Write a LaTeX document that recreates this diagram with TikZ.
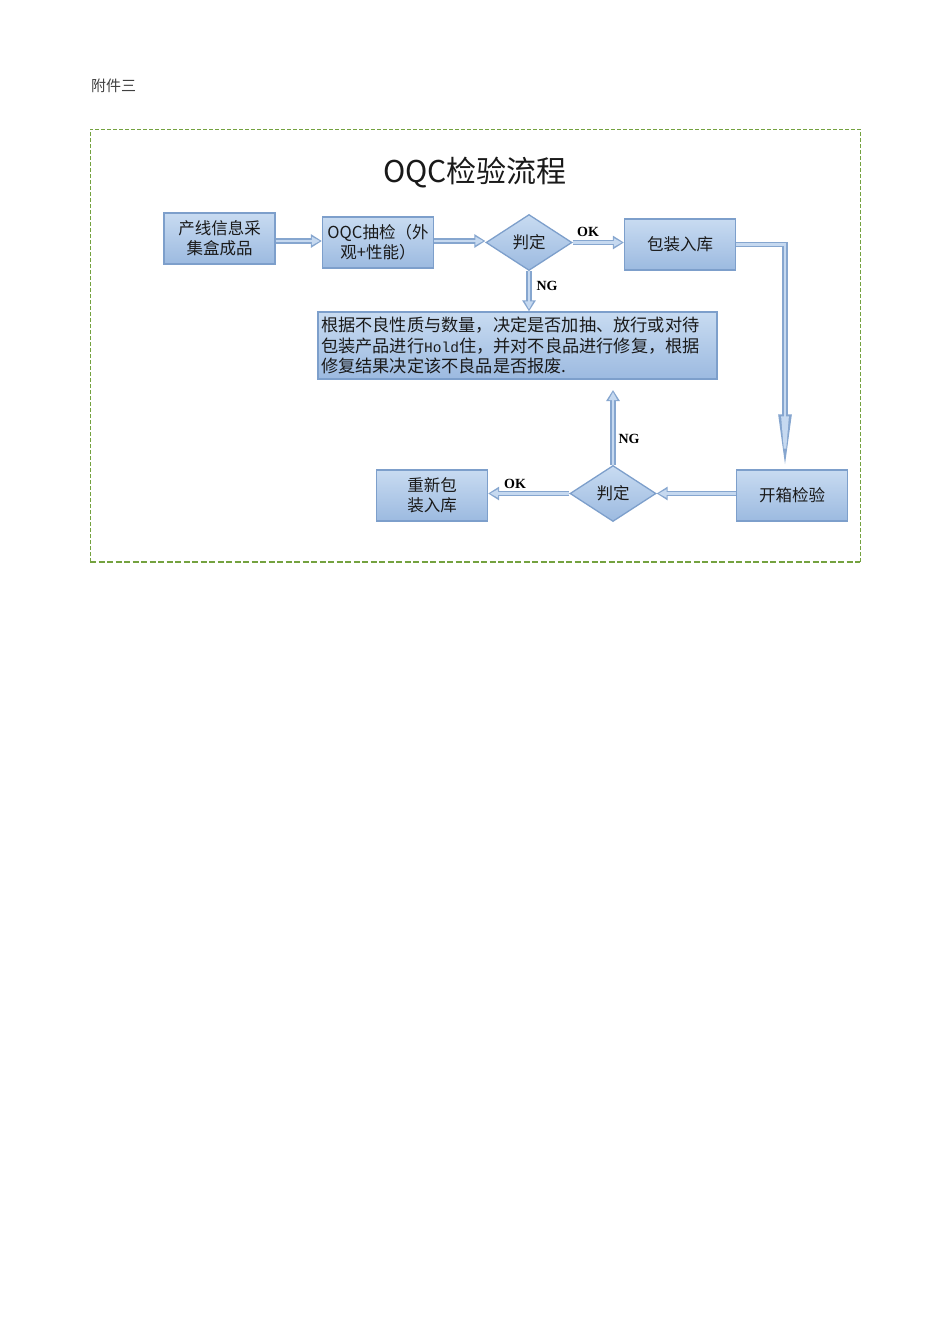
\documentclass[tikz,border=0pt]{standalone}
\usepackage{fontspec}
\newfontfamily\cjk{Noto Sans CJK SC}
\newfontfamily\mono{Liberation Mono}
\newfontfamily\lbl{Liberation Serif}
\usetikzlibrary{arrows.meta,shapes.geometric}
\definecolor{boxtop}{HTML}{C8DBF1}
\definecolor{boxbot}{HTML}{9CBAE0}
\definecolor{boxedge}{HTML}{7D9FCB}
\definecolor{arrowedge}{HTML}{86A6CF}
\definecolor{arrowfill}{HTML}{C6D9F0}
\definecolor{framegreen}{HTML}{74A23F}
\definecolor{txt}{HTML}{1A1A1A}
\tikzset{
  box/.style={rectangle, draw=boxedge, line width=1.3pt, top color=boxtop, bottom color=boxbot,
    minimum width=111pt, minimum height=51pt, inner sep=2pt, align=center, text=txt,
    font=\cjk\fontsize{16.5}{20}\selectfont},
  dia/.style={diamond, draw=boxedge, line width=1.3pt, top color=boxtop, bottom color=boxbot,
    minimum width=86pt, minimum height=56pt, inner sep=0pt, text=txt,
    font=\cjk\fontsize{16.5}{20}\selectfont},
  flow/.style={draw=arrowedge, line width=5.5pt, line join=miter,
    -{Triangle[length=11pt,width=13pt]},
    postaction={draw=arrowfill, line width=2.5pt, -{Triangle[length=8pt,width=8pt]}, shorten >=2pt}},
  longflow/.style={draw=arrowedge, line width=5.5pt, line join=miter,
    -{Triangle[length=55pt,width=12pt]},
    postaction={draw=arrowfill, line width=2.5pt, -{Triangle[length=50pt,width=7pt]}, shorten >=3pt}},
  tag/.style={font=\lbl\bfseries\fontsize{14}{16}\selectfont, text=black, inner sep=0pt},
}
\begin{document}
\begin{tikzpicture}[x=1pt,y=-1pt]
\useasboundingbox (0,0) rectangle (950,1344);
% header
\node[anchor=west, inner sep=0pt, text=black!75, font=\cjk\fontsize{15}{18}\selectfont] (hdr) at (91,86) {附件三};
% frame
\draw[framegreen, line width=1pt, dash pattern=on 4pt off 2pt] (90,562) -- (90,129) -- (860,129) -- (860,562);
\draw[framegreen, line width=2.5pt, dash pattern=on 6pt off 2.5pt] (90,562) -- (860,562);
% title
\node[inner sep=0pt, text=black!90, font=\cjk\fontsize{30}{34}\selectfont] (title) at (475,173) {OQC检验流程};
% nodes
\node[box] (b1) at (219.5,238.5) {产线信息采\\集盒成品};
\node[box] (b2) at (378,242.5) {OQC抽检（外\\观+性能）};
\node[dia] (d1) at (529,242.5) {判定};
\node[box] (b3) at (680,244.5) {包装入库};
\node[box, minimum width=399pt, minimum height=67pt, align=left, text width=393pt, inner sep=3pt,
  font=\cjk\fontsize{17.2}{20.3}\selectfont] (big) at (517.5,345.5)
  {根据不良性质与数量，决定是否加抽、放行或对待\\包装产品进行{\mono\fontsize{14.5}{16}\selectfont Hold}住，并对不良品进行修复，根据\\修复结果决定该不良品是否报废.};
\node[box] (b5) at (792,495.5) {开箱检验};
\node[dia] (d2) at (613,493.5) {判定};
\node[box] (b6) at (432,495.5) {重新包\\装入库};
\coordinate (upend) at (613,390);
% connectors
\draw[flow] ([yshift=-2.5pt]b1.east) -- ([yshift=-2.5pt]b1.east -| b2.west);
\draw[flow] ([yshift=1.5pt]b2.east) -- ([yshift=1.5pt]b2.east -| d1.west);
\draw[flow] (d1.east) -- (d1.east -| b3.west);
\draw[flow] (d1.south) -- (d1.south |- big.north);
\draw[longflow] (b3.east) -| ([xshift=-7pt]b5.north);
\draw[flow] (d2.east -| b5.west) -- (d2.east);
\draw[flow] (d2.west) -- (d2.west -| b6.east);
\draw[flow] (d2.north) -- (upend);
% labels
\node[tag] (ok1) at (588,232) {OK};
\node[tag] (ng1) at (547,286) {NG};
\node[tag] (ng2) at (629,439) {NG};
\node[tag] (ok2) at (515,484) {OK};
\end{tikzpicture}
\end{document}
